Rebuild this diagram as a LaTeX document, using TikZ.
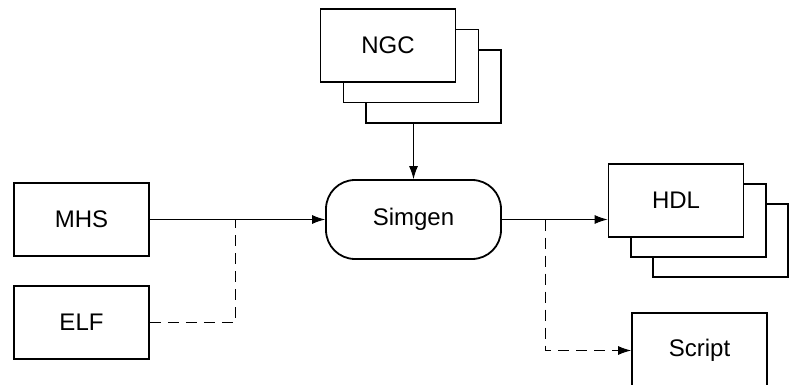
\documentclass[tikz,border=0pt]{standalone}
\usepackage{fontspec}
\setmainfont{Liberation Sans}
\usetikzlibrary{arrows.meta}
\begin{document}
\begin{tikzpicture}[x=1pt,y=-1pt,
  box/.style={draw, line width=1.8pt, fill=white, minimum width=135pt, minimum height=73pt, inner sep=0pt, font=\fontsize{24}{27}\selectfont},
  proc/.style={box, minimum width=175pt, minimum height=79pt, rounded corners=29pt},
  conn/.style={line width=1pt},
  dconn/.style={line width=1pt, dash pattern=on 11pt off 7pt},
  arr/.style={-{Latex[length=13pt,width=9pt]}}]
\useasboundingbox (0,0) rectangle (793,385);
\clip (0,0) rectangle (793,385);
% NGC stack
\node[box] (ngc3) at (433.5,86.5) {};
\node[box] (ngc2) at (411,66) {};
\node[box] (ngc) at (388,45.5) {NGC};
% inputs
\node[box] (mhs) at (81.5,219.5) {MHS};
\node[box] (elf) at (81.5,322.5) {ELF};
% Simgen
\node[proc] (sim) at (413.5,219.5) {Simgen};
% HDL stack
\node[box] (hdl3) at (720.5,240.5) {};
\node[box] (hdl2) at (698.5,220.5) {};
\node[box] (hdl) at (676,200.5) {HDL};
% Script
\node[box, minimum height=75pt] (script) at (699.5,350.5) {Script};
% junctions
\coordinate (j1) at (235,219.5);
\coordinate (j2) at (545,219.5);
% connectors
\draw[conn,arr] (sim.north |- ngc3.south) -- (sim.north);
\draw[conn,arr] (mhs.east) -- (sim.west);
\draw[dconn] (elf.east) -| (j1);
\draw[conn,arr] (sim.east) -- (sim.east -| hdl.west);
\draw[dconn,arr] (j2) |- (script.west);
\end{tikzpicture}
\end{document}
